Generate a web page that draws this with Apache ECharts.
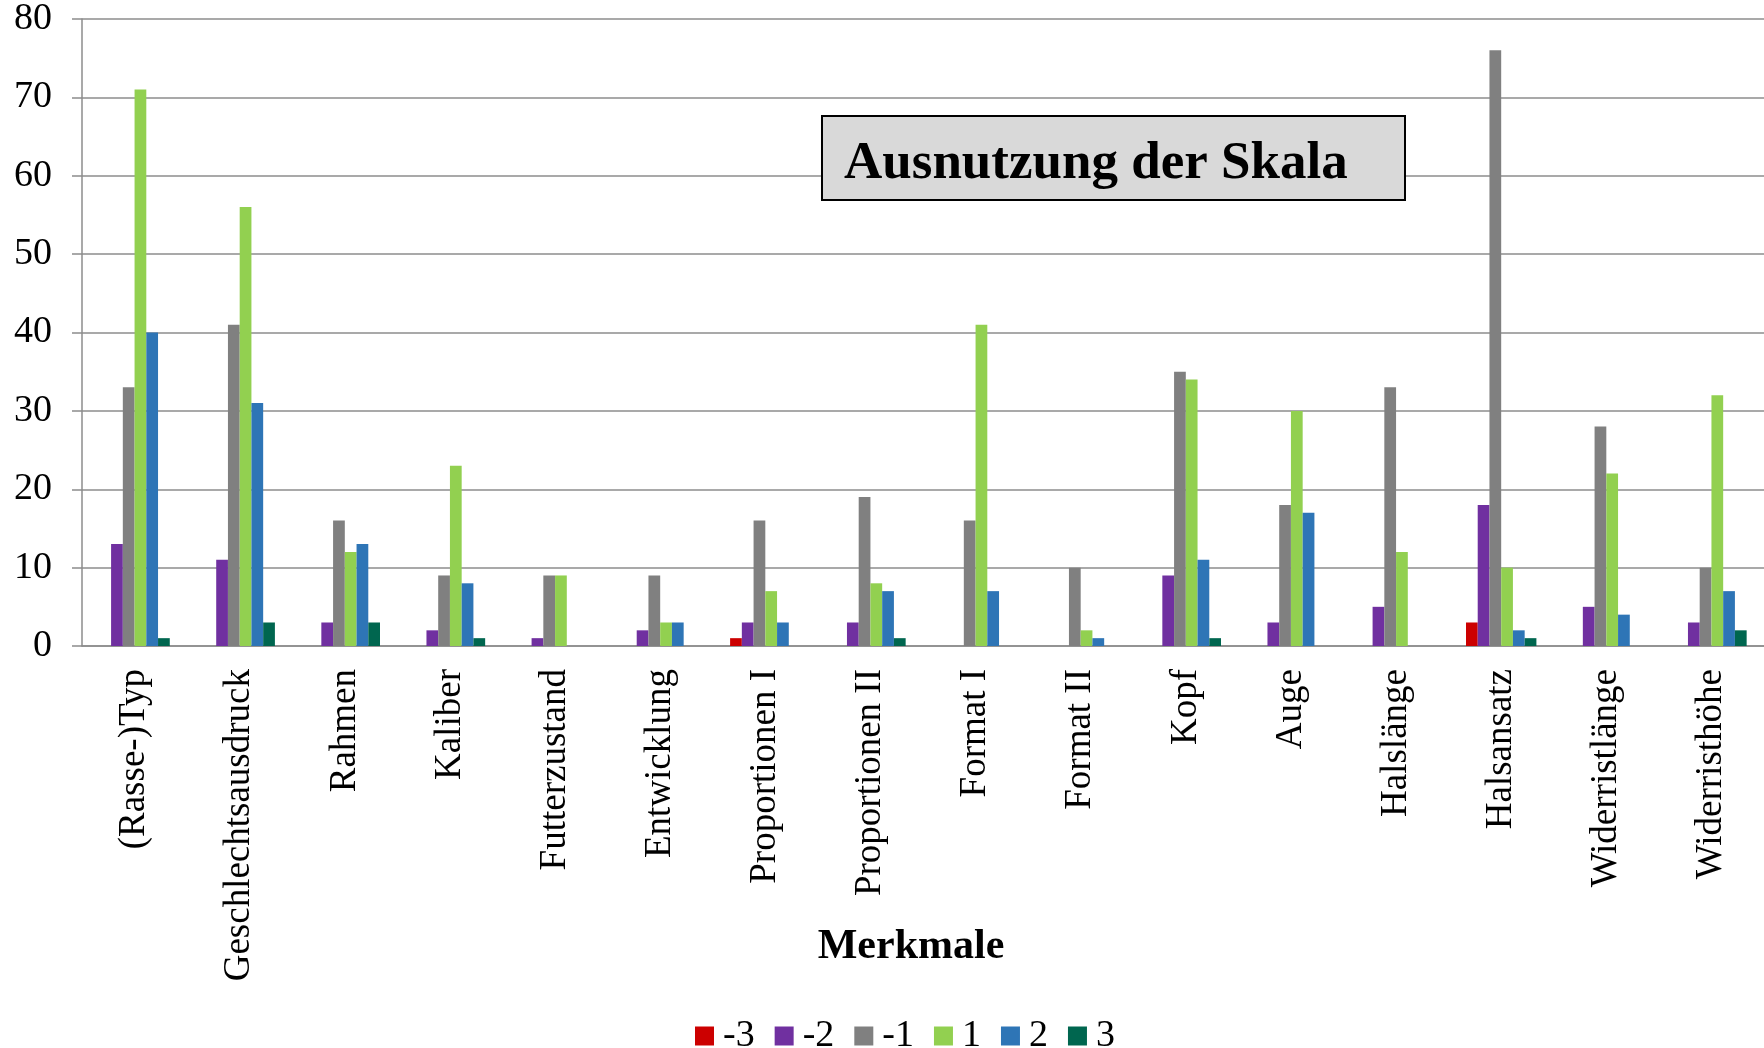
<!DOCTYPE html>
<html>
<head>
<meta charset="utf-8">
<script src="https://cdn.jsdelivr.net/npm/echarts@6/dist/echarts.min.js"></script>
<style>
  html, body { margin: 0; padding: 0; background: #fff; }
  #chart { width: 1764px; height: 1048px; }
</style>
</head>
<body>
<div id="chart"></div>
<script>
  // Merkmale (categories)
  const merkmale = ['(Rasse-)Typ', 'Geschlechtsausdruck', 'Rahmen', 'Kaliber', 'Futterzustand',
    'Entwicklung', 'Proportionen I', 'Proportionen II', 'Format I', 'Format II', 'Kopf', 'Auge',
    'Halslänge', 'Halsansatz', 'Widerristlänge', 'Widerristhöhe'];

  // counts per scale value
  const minus3 = [0, 0, 0, 0, 0, 0, 1, 0, 0, 0, 0, 0, 0, 3, 0, 0];
  const minus2 = [13, 11, 3, 2, 1, 2, 3, 3, 0, 0, 9, 3, 5, 18, 5, 3];
  const minus1 = [33, 41, 16, 9, 9, 9, 16, 19, 16, 10, 35, 18, 33, 76, 28, 10];
  const plus1 = [71, 56, 12, 23, 9, 3, 7, 8, 41, 2, 34, 30, 12, 10, 22, 32];
  const plus2 = [40, 31, 13, 8, 0, 3, 3, 7, 7, 1, 11, 17, 0, 2, 4, 7];
  const plus3 = [1, 3, 3, 1, 0, 0, 0, 1, 0, 0, 1, 0, 0, 1, 0, 2];

  const seriesNames = ['-3', '-2', '-1', '1', '2', '3'];
  const seriesData = [minus3, minus2, minus1, plus1, plus2, plus3];
  const colors = ['#CC0000', '#7030A0', '#808080', '#92D050', '#2E75B6', '#00664F'];

  const font = "'Liberation Serif', 'Times New Roman', serif";
  const myChart = echarts.init(document.getElementById('chart'));

  let series = [];
  for (let i = 0; i < seriesNames.length; i++) {
    series.push({
      name: seriesNames[i],
      type: 'bar',
      data: seriesData[i],
      barGap: 0,
      barCategoryGap: '33%',
      itemStyle: { color: colors[i] }
    });
  }

  let option = {
    animation: false,
    color: colors,
    title: {
      text: 'Ausnutzung der Skala',
      left: 822,
      top: 116,
      padding: [19, 58, 7, 22],
      backgroundColor: '#D9D9D9',
      borderColor: '#000',
      borderWidth: 2,
      textStyle: {
        fontFamily: font,
        fontWeight: 'bold',
        fontSize: 53,
        lineHeight: 58,
        color: '#000'
      }
    },
    legend: {
      data: seriesNames,
      left: 690,
      top: 1012,
      icon: 'rect',
      itemWidth: 19,
      itemHeight: 19,
      itemGap: 20,
      textStyle: { fontFamily: font, fontSize: 38, color: '#000', padding: [0, 0, 0, 4] }
    },
    grid: {
      left: 82,
      right: -17,
      top: 19,
      bottom: 402
    },
    xAxis: {
      type: 'category',
      data: merkmale,
      name: 'Merkmale',
      nameLocation: 'middle',
      nameGap: 280,
      nameMoveOverlap: false,
      nameTextStyle: {
        fontFamily: font,
        fontWeight: 'bold',
        fontSize: 42,
        color: '#000',
        padding: [0, 24, 0, 0]
      },
      axisLine: { lineStyle: { color: '#8c8c8c', width: 1.5 } },
      axisTick: { length: 10, lineStyle: { color: '#8c8c8c', width: 1.5 } },
      axisLabel: {
        interval: 0,
        rotate: 90,
        margin: 23,
        fontFamily: font,
        fontSize: 37,
        color: '#000'
      }
    },
    yAxis: {
      type: 'value',
      min: 0,
      max: 80,
      interval: 10,
      axisLine: { show: true, lineStyle: { color: '#8c8c8c', width: 1.5 } },
      axisTick: { show: true, length: 10, lineStyle: { color: '#8c8c8c', width: 1.5 } },
      splitLine: { lineStyle: { color: '#8c8c8c', width: 1.5 } },
      axisLabel: {
        margin: 30,
        fontFamily: font,
        fontSize: 38,
        color: '#000'
      }
    },
    series: series
  };

  myChart.setOption(option);
  window.addEventListener('resize', function () {
    myChart.resize();
  });
</script>
</body>
</html>
